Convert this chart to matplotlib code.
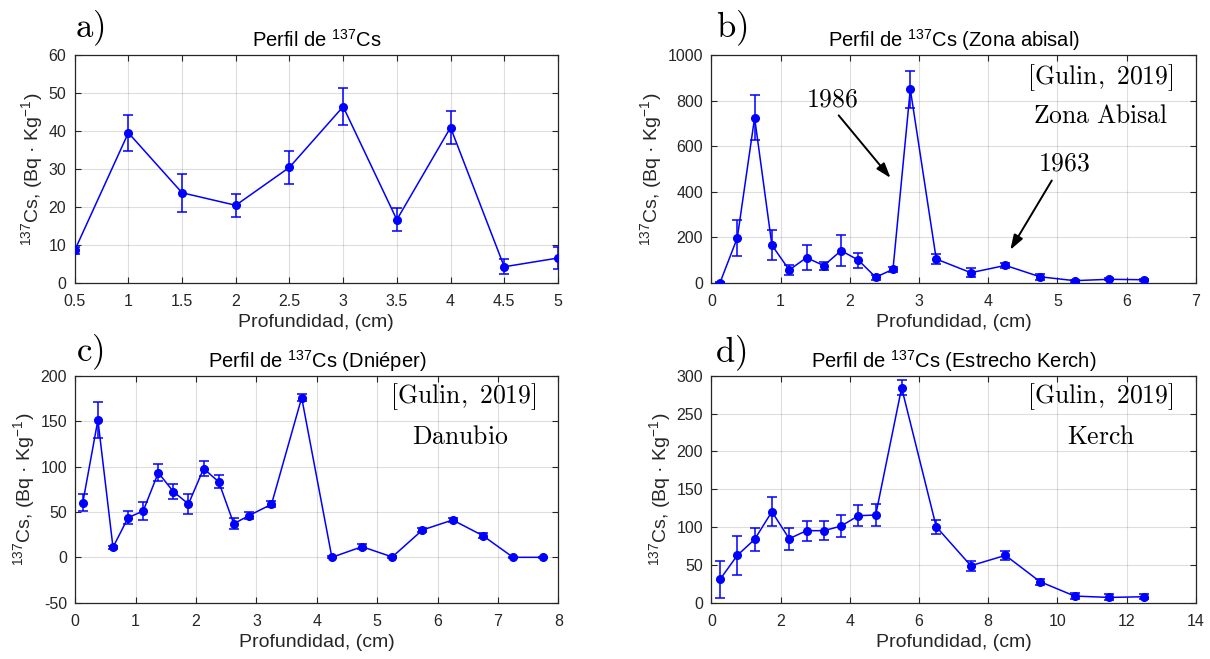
import matplotlib
matplotlib.use("Agg")
import matplotlib.pyplot as plt

plt.rcParams['font.family'] = ['Liberation Sans', 'DejaVu Sans']
plt.rcParams['axes.unicode_minus'] = False

# Panel a) -- general profile
depth_a = [0.5, 1.0, 1.5, 2.0, 2.5, 3.0, 3.5, 4.0, 4.5, 5.0]
cs_a = [8.5, 39.5, 23.7, 20.4, 30.4, 46.4, 16.6, 40.9, 4.2, 6.5]
err_a = [1.0, 4.7, 5.0, 3.0, 4.3, 4.9, 3.0, 4.3, 2.0, 2.8]

# Panel b) -- abyssal zone
depth_b = [0.125, 0.375, 0.625, 0.875, 1.125, 1.375, 1.625, 1.875, 2.125,
           2.375, 2.625, 2.875, 3.25, 3.75, 4.25, 4.75, 5.25, 5.75, 6.25]
cs_b = [0, 197, 725, 165, 56, 110, 75, 141, 99,
        24, 59, 850, 104, 44, 76, 26, 9, 15, 13]
err_b = [3, 78, 99, 65, 23, 56, 17, 68, 33,
         12, 12, 81, 24, 19, 11, 12, 5, 5, 5]

# Panel c) -- Dnieper
depth_c = [0.125, 0.375, 0.625, 0.875, 1.125, 1.375, 1.625, 1.875, 2.125, 2.375,
           2.625, 2.875, 3.25, 3.75, 4.25, 4.75, 5.25, 5.75, 6.25, 6.75, 7.25, 7.75]
cs_c = [60.2, 151.2, 11.0, 43.7, 51.0, 93.2, 72.3, 58.7, 97.6, 83.3,
        37.0, 45.9, 58.4, 175.8, 0.0, 11.7, 0.4, 30.1, 41.1, 23.9, 0.0, 0.0]
err_c = [9, 20, 2, 7.5, 10, 9.5, 8, 11, 8, 7,
         6, 4, 3.5, 3.5, 1, 2.5, 1.5, 2.5, 2, 2.5, 0.5, 0.5]

# Panel d) -- Kerch strait
depth_d = [0.25, 0.75, 1.25, 1.75, 2.25, 2.75, 3.25, 3.75, 4.25, 4.75,
           5.5, 6.5, 7.5, 8.5, 9.5, 10.5, 11.5, 12.5]
cs_d = [30.8, 62.6, 83.7, 120.3, 84.6, 95.2, 95.2, 101.3, 115.0, 115.9,
        284.0, 100.4, 48.9, 62.6, 27.8, 8.8, 7.0, 7.9]
err_d = [24, 25.5, 15, 19, 14.5, 13, 12.5, 15, 13.5, 15,
         9.7, 9, 6.5, 6, 4, 4, 4, 3.5]

xticks_a = [0.5, 1, 1.5, 2, 2.5, 3, 3.5, 4, 4.5, 5]
xticklabels_a = ['0.5', '1', '1.5', '2', '2.5', '3', '3.5', '4', '4.5', '5']
yticks_a = [0, 10, 20, 30, 40, 50, 60]
xticks_b = [0, 1, 2, 3, 4, 5, 6, 7]
yticks_b = [0, 200, 400, 600, 800, 1000]
xticks_c = [0, 1, 2, 3, 4, 5, 6, 7, 8]
yticks_c = [-50, 0, 50, 100, 150, 200]
xticks_d = [0, 2, 4, 6, 8, 10, 12, 14]
yticks_d = [0, 50, 100, 150, 200, 250, 300]

titles = [r'Perfil de $^{\mathregular{137}}$Cs',
          r'Perfil de $^{\mathregular{137}}$Cs (Zona abisal)',
          r'Perfil de $^{\mathregular{137}}$Cs (Dniéper)',
          r'Perfil de $^{\mathregular{137}}$Cs (Estrecho Kerch)']
ylabel = r'$^{\mathregular{137}}$Cs, (Bq · Kg$^{\mathregular{-1}}$)'
xlabel = 'Profundidad, (cm)'

INK = '#262626'
BLUE = '#0000ff'

fig = plt.figure(figsize=(12.1, 6.59), dpi=100)

rects = [
    [0.0617, 0.5710, 0.3994, 0.3455],
    [0.5879, 0.5710, 0.4003, 0.3455],
    [0.0622, 0.0854, 0.3992, 0.3445],
    [0.5879, 0.0854, 0.4003, 0.3445],
]
data = [
    (depth_a, cs_a, err_a, xticks_a, xticklabels_a, yticks_a),
    (depth_b, cs_b, err_b, xticks_b, None, yticks_b),
    (depth_c, cs_c, err_c, xticks_c, None, yticks_c),
    (depth_d, cs_d, err_d, xticks_d, None, yticks_d),
]

axes = []
for rect, (x, y, e, xt, xtl, yt), title in zip(rects, data, titles):
    ax = fig.add_axes(rect)
    ax.errorbar(x, y, yerr=e, fmt='-o', color=BLUE, ms=5.5, lw=1.1,
                elinewidth=1.1, capsize=3.4, capthick=1.1, zorder=3)
    ax.set_xlim(xt[0], xt[-1])
    ax.set_ylim(yt[0], yt[-1])
    ax.set_xticks(xt)
    if xtl is not None:
        ax.set_xticklabels(xtl)
    ax.set_yticks(yt)
    ax.grid(True, color=INK, alpha=0.15, lw=0.8)
    ax.set_axisbelow(True)
    ax.tick_params(direction='in', top=True, right=True, length=4,
                   width=0.8, color=INK, labelcolor=INK, labelsize=11.5)
    ax.tick_params(axis='x', pad=8)
    ax.tick_params(axis='y', pad=6)
    for sp in ax.spines.values():
        sp.set_color(INK)
        sp.set_linewidth(0.9)
    ax.set_title(title, fontsize=14.5, color='k', pad=6)
    ax.set_xlabel(xlabel, fontsize=14, color=INK, labelpad=4)
    ax.set_ylabel(ylabel, fontsize=14, color=INK, labelpad=2)
    axes.append(ax)

ax_a, ax_b, ax_c, ax_d = axes

# LaTeX-style annotations
cm = dict(math_fontfamily='cm', fontsize=18.5, color='k', ha='center', va='center')
ax_b.text(5.62, 899, r'$\mathrm{[Gulin,\ 2019]}$', **cm)
ax_b.text(5.62, 732, r'$\mathrm{Zona\ Abisal}$', **cm)
ax_c.text(6.43, 177, r'$\mathrm{[Gulin,\ 2019]}$', **cm)
ax_c.text(6.37, 133, r'$\mathrm{Danubio}$', **cm)
ax_d.text(11.24, 272, r'$\mathrm{[Gulin,\ 2019]}$', **cm)
ax_d.text(11.26, 219, r'$\mathrm{Kerch}$', **cm)

arrow = dict(arrowstyle='-|>,head_length=0.9,head_width=0.3', color='k', lw=1.4,
             shrinkA=0, shrinkB=0)
ax_b.annotate('', xy=(2.59, 460), xytext=(1.84, 735), arrowprops=arrow)
ax_b.annotate('', xy=(4.32, 144), xytext=(4.92, 449), arrowprops=arrow)
ax_b.text(1.75, 806, r'$\mathrm{1986}$', **cm)
ax_b.text(5.1, 523, r'$\mathrm{1963}$', **cm)

# panel letters
letters = [('a)', 75, 37.7), ('b)', 716, 37.7), ('c)', 76, 361.7), ('d)', 715, 362)]
for lab, px, py in letters:
    fig.text(px / 1210, 1 - py / 659, r'$\mathrm{' + lab + '}$', math_fontfamily='cm',
             fontsize=25, ha='left', va='baseline')

fig.savefig('out.png', dpi=100)
